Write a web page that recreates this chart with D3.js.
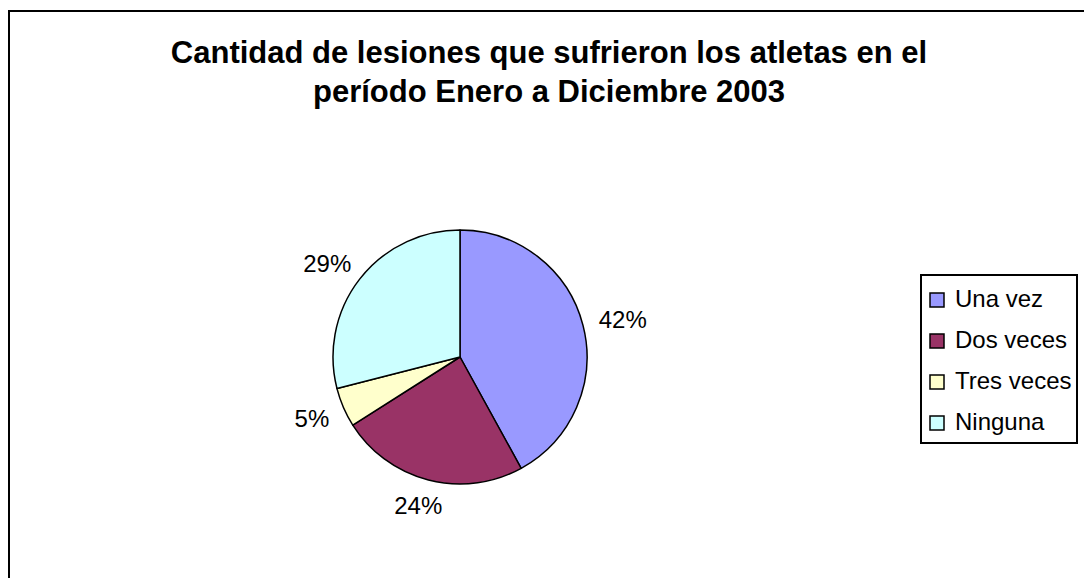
<!DOCTYPE html>
<html>
<head>
<meta charset="utf-8">
<script src="https://cdn.jsdelivr.net/npm/d3@7"></script>
<style>
  html, body { margin: 0; padding: 0; background: #fff; }
  svg { display: block; font-family: Arial, "Liberation Sans", sans-serif; }
</style>
</head>
<body>
<svg id="chart" width="1084" height="578"></svg>
<script>
const titleLines = ["Cantidad de lesiones que sufrieron los atletas en el", "período Enero a Diciembre 2003"];
const categories = ["Una vez", "Dos veces", "Tres veces", "Ninguna"];
const values = [42, 24, 5, 29];
const colors = ["#9999FF", "#993366", "#FFFFCC", "#CCFFFF"];

const svg = d3.select("#chart");
const W = 1084, H = 578;

svg.append("rect").attr("x", 0).attr("y", 0).attr("width", W).attr("height", H).attr("fill", "#fff");

// outer chart border (right/bottom outside the frame)
svg.append("rect")
  .attr("x", 9).attr("y", 11).attr("width", W + 20).attr("height", H + 20)
  .attr("fill", "none").attr("stroke", "#000").attr("stroke-width", 2);

// title
const title = svg.append("text")
  .attr("text-anchor", "middle")
  .attr("font-weight", "bold")
  .attr("font-size", 31)
  .attr("fill", "#000");
titleLines.forEach((t, i) => {
  title.append("tspan").attr("x", 549).attr("y", 63 + i * 39).text(t);
});

// pie
const cx = 460, cy = 357, r = 127;
const pie = d3.pie().sort(null).value(d => d)(values);
const arc = d3.arc().innerRadius(0).outerRadius(r);
const color = d3.scaleOrdinal().domain(categories).range(colors);

const g = svg.append("g").attr("transform", `translate(${cx},${cy})`);
g.selectAll("path.slice")
  .data(pie)
  .join("path")
  .attr("class", "slice")
  .attr("d", arc)
  .attr("fill", (d, i) => color(categories[i]))
  .attr("stroke", "#000")
  .attr("stroke-width", 1.5)
  .attr("stroke-linejoin", "round");

// percentage labels outside
const total = d3.sum(values);
const pad = 17;
g.selectAll("text.lbl")
  .data(pie)
  .join("text")
  .attr("class", "lbl")
  .attr("font-size", 24)
  .attr("fill", "#000")
  .attr("text-anchor", "middle")
  .text(d => Math.round(d.value / total * 100) + "%")
  .each(function(d) {
    const a = (d.startAngle + d.endAngle) / 2;
    const w = this.getComputedTextLength();
    const h = 18;
    const sx = Math.sin(a), sy = -Math.cos(a);
    const x = (r + pad) * sx + sx * w / 2;
    const y = (r + pad) * sy + sy * h / 2;
    d3.select(this).attr("x", x).attr("y", y + h / 2);
  });

// legend
const legend = svg.append("g");
legend.append("rect")
  .attr("x", 921).attr("y", 275).attr("width", 156).attr("height", 168)
  .attr("fill", "#fff").attr("stroke", "#000").attr("stroke-width", 2);
const items = legend.selectAll("g.item")
  .data(categories)
  .join("g")
  .attr("class", "item")
  .attr("transform", (d, i) => `translate(930,${307 + i * 41})`);
items.append("rect")
  .attr("x", 0).attr("y", -14).attr("width", 14).attr("height", 14)
  .attr("fill", d => color(d)).attr("stroke", "#000").attr("stroke-width", 1.5);
items.append("text")
  .attr("x", 25).attr("y", 0)
  .attr("font-size", 24).attr("fill", "#000")
  .text(d => d);
</script>
</body>
</html>
